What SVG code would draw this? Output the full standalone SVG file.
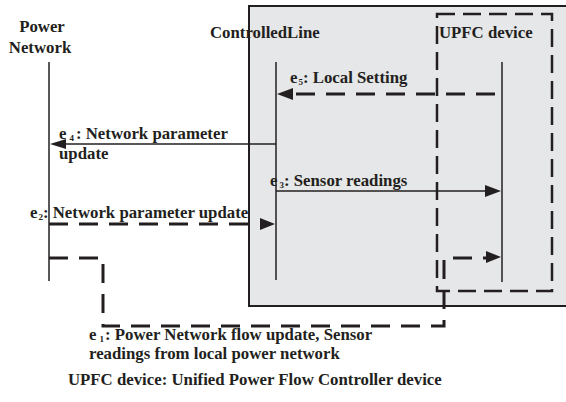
<svg xmlns="http://www.w3.org/2000/svg" width="566" height="402" viewBox="0 0 566 402">
<defs>
<style>
text{font-family:"Liberation Serif","Times New Roman",serif;font-weight:bold;font-size:16.8px;fill:#231f20}
.sub{font-size:9px}
.life{stroke:#231f20;stroke-width:1.5;fill:none}
.solid{stroke:#231f20;stroke-width:1.5;fill:none}
.dash{stroke:#231f20;stroke-width:3;fill:none;stroke-dasharray:19 11}
.head{fill:#231f20}
</style>
</defs>
<rect width="566" height="402" fill="#ffffff"/>
<g id="controlled-line">
<rect x="249" y="6" width="330" height="300" fill="#e6e7e8" stroke="#231f20" stroke-width="2"/>
<text x="210" y="38">ControlledLine</text>
<line class="life" x1="276" y1="62" x2="276" y2="280"/>
</g>
<g id="upfc-device">
<rect x="437" y="14" width="115" height="277" fill="none" stroke="#231f20" stroke-width="2.5" stroke-dasharray="18 8"/>
<text x="439" y="38">UPFC device</text>
<line class="life" x1="502" y1="62" x2="502" y2="282"/>
</g>
<g id="power-network">
<text text-anchor="middle"><tspan x="42" y="32">Power</tspan><tspan x="40" y="53">Network</tspan></text>
<line class="life" x1="49" y1="62" x2="49" y2="281"/>
</g>
<g id="connectors">
<g id="e5">
<line class="dash" x1="495" y1="94" x2="292" y2="94"/>
<polygon class="head" points="277,94 293,88 293,100"/>
<text x="290" y="83">e<tspan class="sub" dx="1" dy="2">5</tspan><tspan dy="-2">: Local Setting</tspan></text>
</g>
<g id="e4">
<line class="solid" x1="276" y1="144" x2="64" y2="144"/>
<polygon class="head" points="50,144 66,139 66,149"/>
<text x="59" y="139">e<tspan class="sub" dx="3" dy="2">4</tspan><tspan dx="2" dy="-2">: Network parameter</tspan><tspan x="59" y="159">update</tspan></text>
</g>
<g id="e3">
<line class="solid" x1="276" y1="191" x2="487" y2="191"/>
<polygon class="head" points="501,191 485,185 485,197"/>
<text x="270" y="186">e<tspan class="sub" dx="2" dy="2">3</tspan><tspan dy="-2">: Sensor readings</tspan></text>
</g>
<g id="e2">
<line class="dash" x1="49" y1="224" x2="249" y2="224"/>
<polygon class="head" points="275,224 260,218 260,230"/>
<text x="30" y="218">e<tspan class="sub" dx="1" dy="2">2</tspan><tspan dy="-2">: Network parameter update</tspan></text>
</g>
<g id="e1">
<path class="dash" d="M49,258 H103 V326 H444 V258 H487"/>
<polygon class="head" points="501,257 486,251 486,263"/>
<text x="89" y="340">e<tspan class="sub" dx="3" dy="2">1</tspan><tspan dx="1" dy="-2">: Power Network flow update, Sensor</tspan><tspan x="89" y="359">readings from local power network</tspan></text>
</g>
</g>
<text x="68" y="385">UPFC device: Unified Power Flow Controller device</text>
</svg>
